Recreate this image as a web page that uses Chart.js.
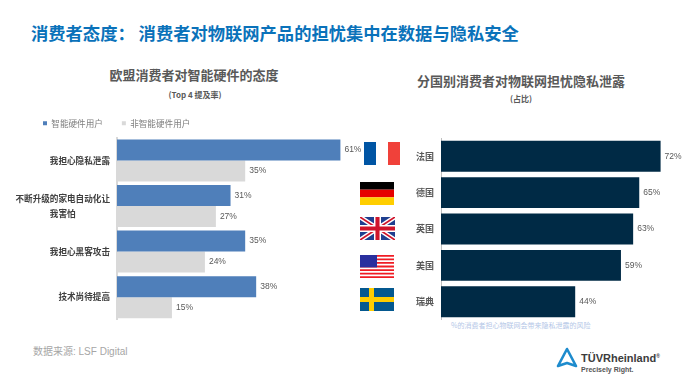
<!DOCTYPE html>
<html>
<head>
<meta charset="utf-8">
<script src="https://cdn.jsdelivr.net/npm/chart.js@4"></script>
<style>
  html,body{margin:0;padding:0;background:#fff;}
  #page{position:relative;width:688px;height:384px;overflow:hidden;font-family:"Noto Sans CJK SC","Liberation Sans",sans-serif;}
  #page div,#page canvas,#page svg{position:absolute;}
  .txt{white-space:nowrap;line-height:1;}
  .center{transform:translateX(-50%);}
  .sub{font-size:13px;font-weight:700;color:#595959;}
  .small{font-size:8px;font-weight:700;color:#595959;}
</style>
</head>
<body>
<div id="page">
  <div class="txt" style="left:31px;top:24px;font-size:17.3px;font-weight:700;color:#0a72ba;">消费者态度：&nbsp;消费者对物联网产品的担忧集中在数据与隐私安全</div>

  <div class="txt sub center" style="left:194px;top:68px;">欧盟消费者对智能硬件的态度</div>
  <div class="txt small center" style="left:195px;top:91px;">(Top 4 提及率)</div>
  <div class="txt sub center" style="left:521px;top:74px;">分国别消费者对物联网担忧隐私泄露</div>
  <div class="txt small center" style="left:521px;top:95px;">(占比)</div>

  <canvas id="left-chart" width="410" height="220" style="left:0;top:100px;"></canvas>
  <canvas id="right-chart" width="275" height="182" style="left:410px;top:138px;"></canvas>

  <!-- flags -->
  <svg style="left:364px;top:142px;" width="36" height="23" viewBox="0 0 36 23"><rect width="12" height="23" fill="#0055a4"/><rect x="24" width="12" height="23" fill="#f0413a"/></svg>
  <svg style="left:360px;top:182px;" width="34" height="23" viewBox="0 0 3 3" preserveAspectRatio="none"><rect width="3" height="1" fill="#000"/><rect y="1" width="3" height="1" fill="#e60000"/><rect y="2" width="3" height="1" fill="#ffce00"/></svg>
  <svg style="left:360px;top:217px;" width="35" height="23" viewBox="0 0 60 40" preserveAspectRatio="none"><rect width="60" height="40" fill="#1f3f8f"/><path d="M0 0L60 40M60 0L0 40" stroke="#fff" stroke-width="8"/><path d="M0 0L60 40M60 0L0 40" stroke="#cf142b" stroke-width="3"/><path d="M30 0V40M0 20H60" stroke="#fff" stroke-width="12"/><path d="M30 0V40M0 20H60" stroke="#cf142b" stroke-width="7"/></svg>
  <svg style="left:360px;top:255px;" width="34" height="23" viewBox="0 0 13 13" preserveAspectRatio="none"><rect width="13" height="13" fill="#fff"/><path d="M0 .5H13M0 2.5H13M0 4.5H13M0 6.5H13M0 8.5H13M0 10.5H13M0 12.5H13" stroke="#f01c24" stroke-width="1"/><rect width="6.5" height="7" fill="#2a2f9e"/></svg>
  <svg style="left:360px;top:288px;" width="34" height="23" viewBox="0 0 34 23"><rect width="34" height="23" fill="#04588f"/><rect x="9" width="5" height="23" fill="#fecc00"/><rect y="9" width="34" height="5" fill="#fecc00"/></svg>

  <div class="txt" style="left:451px;top:322px;font-size:7px;color:#b4c7e7;">%的消费者担心物联网会带来隐私泄露的风险</div>
  <div class="txt" style="left:33px;top:347px;font-size:10px;color:#a6a6a6;font-family:'Liberation Sans','Noto Sans CJK SC',sans-serif;">数据来源: LSF Digital</div>

  <!-- logo -->
  <svg style="left:556px;top:347px;" width="22" height="22" viewBox="0 0 22 22"><path d="M11 2L20 19L11 16L2 19Z" fill="none" stroke="#1d8bcd" stroke-width="2.6" stroke-linejoin="round"/></svg>
  <div class="txt" style="left:581px;top:353px;font-size:11px;font-weight:700;color:#3c3c3c;font-family:'Liberation Sans',sans-serif;">TÜVRheinland<span style="font-size:5px;vertical-align:4px;">®</span></div>
  <div class="txt" style="left:581px;top:366px;font-size:7px;font-weight:700;color:#555;font-family:'Liberation Sans',sans-serif;">Precisely Right.</div>
</div>

<script>
const leftCategories=[['我担心隐私泄露'],['不断升级的家电自动化让','我害怕\u3000\u3000\u3000\u3000'],['我担心黑客攻击'],['技术尚待提高']];
const leftSeriesNames=['智能硬件用户','非智能硬件用户'];
const smartUsers=[61,31,35,38];
const nonSmartUsers=[35,27,24,15];
const countries=['法国','德国','英国','美国','瑞典'];
const privacyWorry=[72,65,63,59,44];

const cjk='"Noto Sans CJK SC","Liberation Sans",sans-serif';

// value labels at the end of each bar
const barValues={
  id:'barValues',
  afterDatasetsDraw(chart){
    const c=chart.ctx;
    c.save();
    c.font='8.5px "Liberation Sans",sans-serif';
    c.fillStyle='#595959';
    c.textBaseline='middle';
    chart.data.datasets.forEach((ds,i)=>{
      chart.getDatasetMeta(i).data.forEach((el,j)=>{
        c.fillText(ds.data[j]+'%',el.x+4,el.y);
      });
    });
    c.restore();
  }
};

// legend starts further right than the y axis labels
const legendOffset={
  id:'legendOffset',
  afterLayout(chart){chart.legend.left+=24;}
};

new Chart(document.getElementById('left-chart'),{
  type:'bar',
  data:{labels:leftCategories,datasets:[
    {label:leftSeriesNames[0],data:smartUsers,backgroundColor:'#4f7fba'},
    {label:leftSeriesNames[1],data:nonSmartUsers,backgroundColor:'#d9d9d9'}
  ]},
  options:{
    indexAxis:'y',responsive:false,animation:false,
    categoryPercentage:0.92,barPercentage:1,
    plugins:{
      tooltip:{enabled:false},
      legend:{position:'top',align:'start',labels:{boxWidth:4,boxHeight:4,padding:19,color:'#7f7f7f',font:{size:8.6,family:cjk}}}
    },
    scales:{
      x:{display:false,min:0,max:80},
      y:{
        afterFit(s){s.width=117;s.paddingTop=2;s.paddingBottom=0;},
        grid:{display:false,drawTicks:false},
        border:{color:'#d9d9d9',width:2},
        ticks:{color:'#404040',padding:7,autoSkip:false,font:{size:8.6,weight:'bold',family:cjk,lineHeight:1.7}}
      }
    }
  },
  plugins:[barValues,legendOffset]
});

new Chart(document.getElementById('right-chart'),{
  type:'bar',
  data:{labels:countries,datasets:[
    {data:privacyWorry,backgroundColor:'#002a45',categoryPercentage:1,barPercentage:0.85}
  ]},
  options:{
    indexAxis:'y',responsive:false,animation:false,
    plugins:{tooltip:{enabled:false},legend:{display:false}},
    scales:{
      x:{display:false,min:0,max:80},
      y:{
        afterFit(s){s.width=31;s.paddingTop=0;s.paddingBottom=0;},
        grid:{display:false,drawTicks:false},
        border:{color:'#bfbfbf',width:1},
        ticks:{color:'#595959',padding:7,font:{size:9,weight:'bold',family:cjk}}
      }
    }
  },
  plugins:[barValues]
});
</script>
</body>
</html>
